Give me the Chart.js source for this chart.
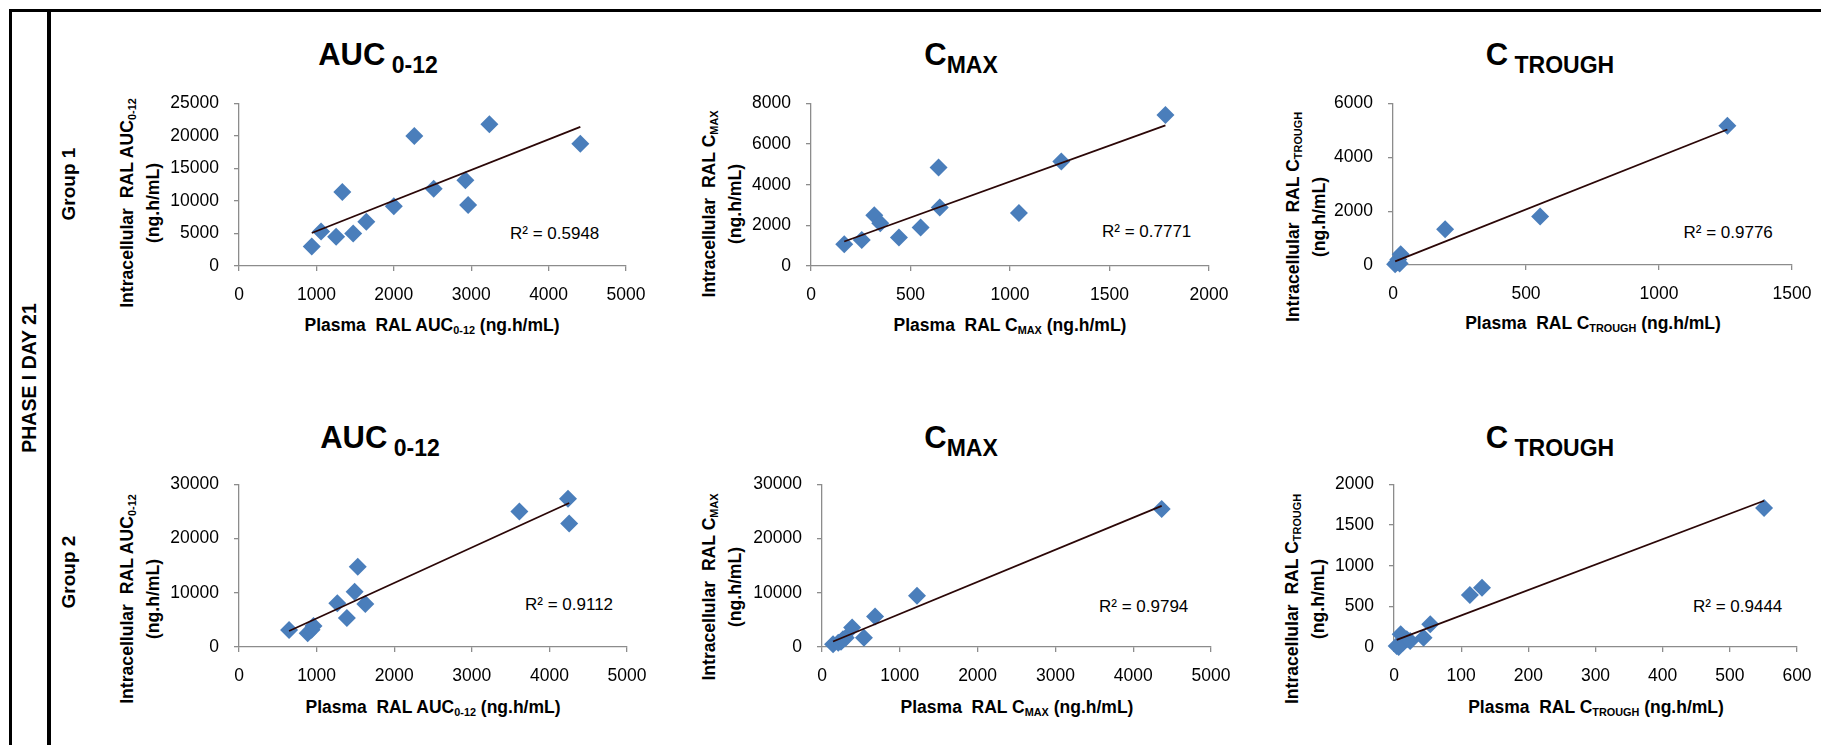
<!DOCTYPE html>
<html>
<head>
<meta charset="utf-8">
<script src="https://cdn.jsdelivr.net/npm/chart.js@4.4.1/dist/chart.umd.min.js"></script>
<style>
  html, body { margin: 0; padding: 0; background: #fff; }
  body { width: 1821px; height: 745px; position: relative; overflow: hidden;
         font-family: 'Liberation Sans', Arial, sans-serif; color: #000; }
  canvas { position: absolute; }
  .rule { position: absolute; background: #000; }
  .txt { position: absolute; white-space: nowrap; }
  sub { font-size: 0.62em; vertical-align: baseline; position: relative; top: 0.3em; }

  /* panel titles */
  .title { font-weight: bold; font-size: 31px; line-height: 31px; transform: translateX(-50%); }
  .title sub { font-size: 23px; top: 8px; }

  /* axis titles */
  .ylab { font-weight: bold; font-size: 17.6px; line-height: 24px; text-align: center;
          transform: translate(-50%, -50%) rotate(-90deg); }
  .xlab { font-weight: bold; font-size: 17.5px; transform: translate(-50%, -50%); }
  .r2 { font-size: 17px; transform: translateY(-50%); }
  .side { font-weight: bold; font-size: 19px; transform: translate(-50%, -50%) rotate(-90deg); }
</style>
</head>
<body>

<!-- frame -->
<div class="rule" style="left:9px; top:8.5px; width:1812px; height:3px;"></div>
<div class="rule" style="left:9px; top:8.5px; width:2.5px; height:737px;"></div>
<div class="rule" style="left:47px; top:8.5px; width:4px; height:737px;"></div>

<div class="txt side" style="left:28.5px; top:378px; font-size:19.5px;">PHASE I DAY 21</div>
<div class="txt side" style="left:69px; top:184px;">Group 1</div>
<div class="txt side" style="left:69px; top:572px;">Group 2</div>

<!-- row 1 -->
<div class="txt title" style="left:378px; top:39px;">AUC<sub> 0-12</sub></div>
<div class="txt title" style="left:961px; top:39px;">C<sub>MAX</sub></div>
<div class="txt title" style="left:1550px; top:39px;">C<sub> TROUGH</sub></div>

<div class="txt ylab" style="left:140px; top:202.5px;">Intracellular&nbsp; RAL AUC<sub>0-12</sub><br>(ng.h/mL)</div>
<div class="txt ylab" style="left:722px; top:204px;">Intracellular&nbsp; RAL C<sub>MAX</sub><br>(ng.h/mL)</div>
<div class="txt ylab" style="left:1305.5px; top:217px;">Intracellular&nbsp; RAL C<sub>TROUGH</sub><br>(ng.h/mL)</div>

<div class="txt xlab" style="left:432px; top:325px;">Plasma&nbsp; RAL AUC<sub>0-12</sub> (ng.h/mL)</div>
<div class="txt xlab" style="left:1010px; top:325px;">Plasma&nbsp; RAL C<sub>MAX</sub> (ng.h/mL)</div>
<div class="txt xlab" style="left:1593px; top:323px;">Plasma&nbsp; RAL C<sub>TROUGH</sub> (ng.h/mL)</div>

<div class="txt r2" id="r2_1" style="left:510px; top:234px;"></div>
<div class="txt r2" id="r2_2" style="left:1102px; top:231.7px;"></div>
<div class="txt r2" id="r2_3" style="left:1683.5px; top:233px;"></div>

<!-- row 2 -->
<div class="txt title" style="left:380px; top:422px;">AUC<sub> 0-12</sub></div>
<div class="txt title" style="left:961px; top:422px;">C<sub>MAX</sub></div>
<div class="txt title" style="left:1550px; top:422px;">C<sub> TROUGH</sub></div>

<div class="txt ylab" style="left:140px; top:599px;">Intracellular&nbsp; RAL AUC<sub>0-12</sub><br>(ng.h/mL)</div>
<div class="txt ylab" style="left:722px; top:587px;">Intracellular&nbsp; RAL C<sub>MAX</sub><br>(ng.h/mL)</div>
<div class="txt ylab" style="left:1305px; top:599px;">Intracellular&nbsp; RAL C<sub>TROUGH</sub><br>(ng.h/mL)</div>

<div class="txt xlab" style="left:433px; top:707px;">Plasma&nbsp; RAL AUC<sub>0-12</sub> (ng.h/mL)</div>
<div class="txt xlab" style="left:1017px; top:707px;">Plasma&nbsp; RAL C<sub>MAX</sub> (ng.h/mL)</div>
<div class="txt xlab" style="left:1596px; top:707px;">Plasma&nbsp; RAL C<sub>TROUGH</sub> (ng.h/mL)</div>

<div class="txt r2" id="r2_4" style="left:525px; top:604.5px;"></div>
<div class="txt r2" id="r2_5" style="left:1099px; top:607px;"></div>
<div class="txt r2" id="r2_6" style="left:1693px; top:607px;"></div>

<script>
// ---- data ----
// Group 1
const g1AucPlasma = [940, 1060, 1255, 1335, 1475, 1645, 2000, 2265, 2515, 2925, 2960, 3235, 4410];
const g1AucCell   = [3000, 5300, 4500, 11400, 5000, 6800, 9200, 20000, 11900, 13200, 9400, 21800, 18800];

const g1CmaxPlasma = [167, 255, 318, 348, 442, 551, 641, 647, 1045, 1258, 1781];
const g1CmaxCell   = [1070, 1280, 2500, 2100, 1400, 1890, 4850, 2875, 2610, 5140, 7440];

const g1TroughPlasma = [8, 14, 20, 25, 29, 196, 553, 1257];
const g1TroughCell   = [30, 90, 200, 60, 400, 1330, 1800, 5170];

// Group 2
const g2AucPlasma = [645, 885, 935, 960, 1267, 1390, 1490, 1530, 1628, 3613, 4240, 4255];
const g2AucCell   = [3150, 2530, 3200, 3900, 8100, 5370, 10200, 14800, 7960, 25000, 27350, 22780];

const g2CmaxPlasma = [142, 209, 244, 270, 305, 387, 539, 682, 1221, 4366];
const g2CmaxCell   = [500, 800, 990, 1420, 1730, 3580, 1730, 5620, 9440, 25500];

const g2TroughPlasma = [4, 7, 10, 13, 19, 24, 44, 54, 113, 131, 551];
const g2TroughCell   = [12, 0, 156, 53, 95, 74, 115, 280, 640, 730, 1710];

// axis ranges: [min, max, step]
const aucXAxis1 = [0, 5000, 1000],  aucYAxis1 = [0, 25000, 5000];
const cmaxXAxis1 = [0, 2000, 500],  cmaxYAxis1 = [0, 8000, 2000];
const trXAxis1 = [0, 1500, 500],    trYAxis1 = [0, 6000, 2000];
const aucXAxis2 = [0, 5000, 1000],  aucYAxis2 = [0, 30000, 10000];
const cmaxXAxis2 = [0, 5000, 1000], cmaxYAxis2 = [0, 30000, 10000];
const trXAxis2 = [0, 600, 100],     trYAxis2 = [0, 2000, 500];

const r2Values = ['0.5948', '0.7771', '0.9776', '0.9112', '0.9794', '0.9444'];

// ---- style ----
const FONT = "'Liberation Sans', Arial, sans-serif";
const BLUE = '#4a7ebb';
const TREND = '#2b0707';
const AXIS = '#8c8c8c';

// least squares line over the x range of the data (Excel linear trendline)
function trend(xs, ys) {
    const n = xs.length;
    const mx = xs.reduce((a, b) => a + b, 0) / n;
    const my = ys.reduce((a, b) => a + b, 0) / n;
    let sxy = 0, sxx = 0;
    for (let i = 0; i < n; i++) {
        sxy += (xs[i] - mx) * (ys[i] - my);
        sxx += (xs[i] - mx) * (xs[i] - mx);
    }
    const b = sxy / sxx, a = my - b * mx;
    const x0 = Math.min(...xs), x1 = Math.max(...xs);
    return [{ x: x0, y: a + b * x0 }, { x: x1, y: a + b * x1 }];
}

function scaleOpts(range, isX, fitSize) {
    return {
        type: 'linear',
        min: range[0],
        max: range[1],
        ticks: {
            stepSize: range[2],
            color: '#000',
            font: { family: FONT, size: 17.5 },
            padding: isX ? 14 : 15,
            maxRotation: 0,
            autoSkip: false,
            callback: v => String(v),
        },
        grid: {
            drawOnChartArea: false,
            drawTicks: true,
            tickLength: 5,
            color: AXIS,
            lineWidth: 1.3,
        },
        border: { color: AXIS, width: 1.3 },
        afterFit: s => {
            if (isX) s.height = fitSize; else s.width = fitSize;
        },
    };
}

// chart area boxes [left, top, right, bottom] in page pixels
const panels = [
    { x: g1AucPlasma, y: g1AucCell, xr: aucXAxis1, yr: aucYAxis1, box: [239, 103, 626, 265] },
    { x: g1CmaxPlasma, y: g1CmaxCell, xr: cmaxXAxis1, yr: cmaxYAxis1, box: [811, 103, 1209, 265] },
    { x: g1TroughPlasma, y: g1TroughCell, xr: trXAxis1, yr: trYAxis1, box: [1393, 103, 1792, 264] },
    { x: g2AucPlasma, y: g2AucCell, xr: aucXAxis2, yr: aucYAxis2, box: [239, 484, 627, 646] },
    { x: g2CmaxPlasma, y: g2CmaxCell, xr: cmaxXAxis2, yr: cmaxYAxis2, box: [822, 484, 1211, 646] },
    { x: g2TroughPlasma, y: g2TroughCell, xr: trXAxis2, yr: trYAxis2, box: [1394, 484, 1797, 646] },
];

const PADL = 80, PADR = 44, PADB = 50;

panels.forEach((p, i) => {
    const [L, T, R, B] = p.box;
    const w = (R - L) + PADL + PADR;
    let h = (B - T) + 30 + PADB;
    const cv = document.createElement('canvas');
    cv.width = w;
    cv.height = h;
    cv.style.left = (L - PADL) + 'px';
    cv.style.width = w + 'px';
    cv.style.height = h + 'px';
    document.body.appendChild(cv);

    const points = p.x.map((v, k) => ({ x: v, y: p.y[k] }));

    const chart = new Chart(cv.getContext('2d'), {
        type: 'scatter',
        data: {
            datasets: [
                {
                    data: trend(p.x, p.y),
                    showLine: true,
                    borderColor: TREND,
                    borderWidth: 1.8,
                    pointRadius: 0,
                    clip: false,
                },
                {
                    data: points,
                    pointStyle: 'rectRot',
                    pointRadius: 9,
                    backgroundColor: BLUE,
                    borderColor: BLUE,
                    borderWidth: 0,
                    clip: false,
                },
            ],
        },
        options: {
            responsive: false,
            maintainAspectRatio: false,
            animation: false,
            events: [],
            devicePixelRatio: 1,
            layout: { padding: { left: 0, top: 0, right: PADR, bottom: 0 } },
            scales: {
                x: scaleOpts(p.xr, true, PADB),
                y: scaleOpts(p.yr, false, PADL),
            },
            plugins: {
                legend: { display: false },
                tooltip: { enabled: false },
            },
        },
    });

    // fit the canvas so the plot area lands on the box
    const top0 = chart.chartArea.top;
    h = Math.round((B - T) + top0 + PADB);
    chart.resize(w, h);
    cv.style.top = (T - chart.chartArea.top) + 'px';

    document.getElementById('r2_' + (i + 1)).textContent = 'R\u00b2 = ' + r2Values[i];
});
</script>
</body>
</html>
